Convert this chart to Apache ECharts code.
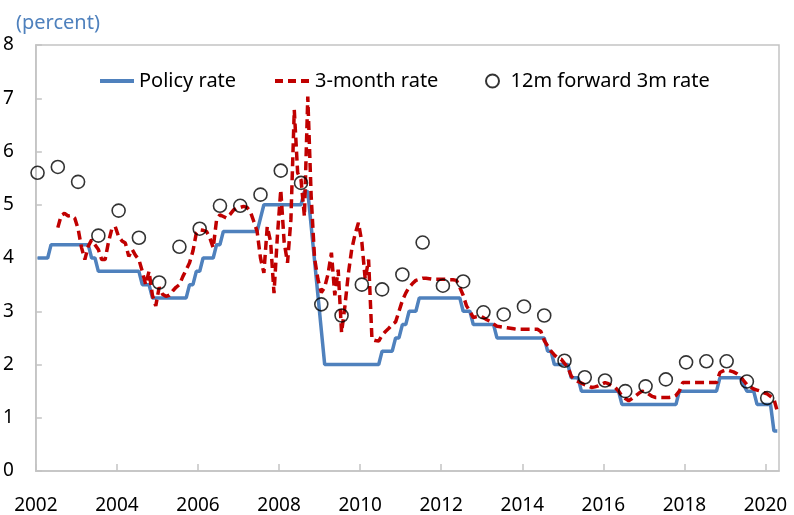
<!DOCTYPE html>
<html>
<head>
<meta charset="utf-8">
<script src="https://cdn.jsdelivr.net/npm/echarts@6/dist/echarts.min.js"></script>
<style>
  html, body { margin: 0; padding: 0; background: #fff; }
  #chart { width: 794px; height: 515px; }
</style>
</head>
<body>
<div id="chart"></div>
<script>
// monthly values, Jan 2002 .. Apr 2020 (one row per year)
const policyRate = [
  4, 4, 4, 4, 4.25, 4.25, 4.25, 4.25, 4.25, 4.25, 4.25, 4.25,
  4.25, 4.25, 4.25, 4.25, 4, 4, 3.75, 3.75, 3.75, 3.75, 3.75, 3.75,
  3.75, 3.75, 3.75, 3.75, 3.75, 3.75, 3.75, 3.5, 3.5, 3.5, 3.25, 3.25,
  3.25, 3.25, 3.25, 3.25, 3.25, 3.25, 3.25, 3.25, 3.25, 3.5, 3.5, 3.75,
  3.75, 4, 4, 4, 4, 4.25, 4.25, 4.5, 4.5, 4.5, 4.5, 4.5,
  4.5, 4.5, 4.5, 4.5, 4.5, 4.5, 4.75, 5, 5, 5, 5, 5,
  5, 5, 5, 5, 5, 5, 5, 5.25, 5.25, 4.6, 3.95, 3.3,
  2.65, 2, 2, 2, 2, 2, 2, 2, 2, 2, 2, 2,
  2, 2, 2, 2, 2, 2, 2.25, 2.25, 2.25, 2.25, 2.5, 2.5,
  2.75, 2.75, 3, 3, 3, 3.25, 3.25, 3.25, 3.25, 3.25, 3.25, 3.25,
  3.25, 3.25, 3.25, 3.25, 3.25, 3.25, 3, 3, 3, 2.75, 2.75, 2.75,
  2.75, 2.75, 2.75, 2.75, 2.5, 2.5, 2.5, 2.5, 2.5, 2.5, 2.5, 2.5,
  2.5, 2.5, 2.5, 2.5, 2.5, 2.5, 2.5, 2.25, 2.25, 2, 2, 2,
  2, 2, 1.75, 1.75, 1.75, 1.5, 1.5, 1.5, 1.5, 1.5, 1.5, 1.5,
  1.5, 1.5, 1.5, 1.5, 1.5, 1.25, 1.25, 1.25, 1.25, 1.25, 1.25, 1.25,
  1.25, 1.25, 1.25, 1.25, 1.25, 1.25, 1.25, 1.25, 1.25, 1.25, 1.5, 1.5,
  1.5, 1.5, 1.5, 1.5, 1.5, 1.5, 1.5, 1.5, 1.5, 1.5, 1.75, 1.75,
  1.75, 1.75, 1.75, 1.75, 1.75, 1.62, 1.5, 1.5, 1.5, 1.25, 1.25, 1.25,
  1.25, 1.25, 0.75, 0.75
];

const threeMonthRate = [
  null, null, null, null, null, null, 4.57, 4.8, 4.84, 4.79, 4.8, 4.75,
  4.55, 4.2, 3.97, 4.22, 4.34, 4.25, 4.16, 3.97, 3.97, 4.3, 4.55, 4.59,
  4.4, 4.32, 4.28, 4.03, 4.16, 4.05, 3.97, 3.75, 3.5, 3.75, 3.3, 3.1,
  3.45, 3.32, 3.28, 3.3, 3.38, 3.45, 3.5, 3.65, 3.78, 3.91, 4.13, 4.47,
  4.53, 4.52, 4.5, 4.38, 4.19, 4.72, 4.81, 4.78, 4.75, 4.82, 4.9, 4.94,
  4.95, 4.97, 4.95, 4.87, 4.69, 4.5, 4.0, 3.72, 4.59, 4.3, 3.34, 4.41,
  5.28, 4.3, 3.91, 4.72, 6.78, 5.6, 5.47, 4.78, 7.03, 5.16, 4.0, 3.6,
  3.35, 3.45, 3.7, 4.1, 3.3, 3.78, 2.6, 3.1, 3.7, 4.16, 4.45, 4.66,
  4.3, 3.6, 3.97, 2.47, 2.45, 2.44, 2.55, 2.62, 2.68, 2.75, 2.8, 3.0,
  3.2, 3.34, 3.45, 3.52, 3.58, 3.6, 3.62, 3.62, 3.61, 3.6, 3.6, 3.6,
  3.6, 3.6, 3.59, 3.59, 3.58, 3.45, 3.3, 3.1, 3.0, 2.88, 2.9, 2.91,
  2.88, 2.84, 2.81, 2.76, 2.72, 2.71, 2.7, 2.69, 2.68, 2.67, 2.66, 2.66,
  2.66, 2.66, 2.66, 2.66, 2.66, 2.62, 2.45, 2.35, 2.25, 2.18, 2.12, 2.1,
  2.02, 1.95, 1.78, 1.72, 1.68, 1.65, 1.62, 1.6, 1.57, 1.58, 1.6, 1.63,
  1.66, 1.64, 1.6, 1.57, 1.5, 1.41, 1.36, 1.32, 1.36, 1.41, 1.46, 1.5,
  1.48, 1.44, 1.4, 1.38, 1.38, 1.38, 1.38, 1.38, 1.39, 1.42, 1.5, 1.66,
  1.66, 1.66, 1.66, 1.66, 1.66, 1.66, 1.66, 1.66, 1.66, 1.66, 1.85, 1.88,
  1.9, 1.88, 1.86, 1.83, 1.78, 1.7, 1.62, 1.58, 1.54, 1.52, 1.5, 1.47,
  1.45, 1.4, 1.35, 1.12
];

// January and July readings, Jan 2002 .. Jan 2020
const forwardRate = [
  5.6, 5.71, 5.43, 4.42, 4.89, 4.38, 3.54, 4.21, 4.55, 4.98,
  4.98, 5.19, 5.64, 5.41, 3.13, 2.92, 3.5, 3.41, 3.69, 4.29,
  3.48, 3.56, 2.98, 2.94, 3.09, 2.92, 2.07, 1.76, 1.7, 1.5,
  1.59, 1.72, 2.04, 2.06, 2.06, 1.68, 1.37
];

const startYear = 2002;
const monthsShown = 220; // axis runs to start of May 2020
const font = 'Noto Sans';

// month index -> decimal year, points sit mid-month
function monthPos(i) {
  return startYear + (i + 0.5) / 12;
}

const chart = echarts.init(document.getElementById('chart'));

const legendText = { fontFamily: font, fontSize: 20, color: '#000' };

const option = {
  animation: false,
  backgroundColor: '#fff',
  title: {
    text: '(percent)',
    left: 11,
    top: 8,
    textStyle: { fontFamily: font, fontSize: 20, fontWeight: 'normal', color: '#4f81bd' }
  },
  legend: [
    {
      data: ['Policy rate'],
      left: 98, top: 71, padding: 0,
      itemWidth: 34, itemHeight: 14,
      itemStyle: { opacity: 0 },
      lineStyle: { width: 4 },
      textStyle: legendText
    },
    {
      data: ['3-month rate'],
      left: 273, top: 71, padding: 0,
      itemWidth: 35, itemHeight: 14,
      itemStyle: { opacity: 0 },
      lineStyle: { width: 4, type: [8, 5] },
      textStyle: legendText
    },
    {
      data: ['12m forward 3m rate'],
      left: 485, top: 71, padding: 0,
      itemWidth: 26, itemHeight: 13,
      textStyle: legendText
    }
  ],
  grid: {
    left: 34, right: 15, top: 45, bottom: 43,
    show: true,
    borderColor: '#c3c3c3',
    borderWidth: 1.5
  },
  xAxis: {
    type: 'value',
    min: startYear,
    max: startYear + monthsShown / 12,
    interval: 2,
    axisLine: { show: true, lineStyle: { color: '#c3c3c3', width: 1.5 } },
    axisTick: { show: true, inside: true, length: 7, lineStyle: { color: '#c3c3c3', width: 1.5 } },
    axisLabel: {
      margin: 25,
      showMaxLabel: false,
      fontFamily: font, fontSize: 19, color: '#000',
      formatter: v => (Number.isInteger(Math.round(v * 1000) / 1000) ? String(Math.round(v)) : '')
    },
    splitLine: { show: false }
  },
  yAxis: {
    type: 'value',
    min: 0, max: 8, interval: 1,
    axisLine: { show: true, lineStyle: { color: '#c3c3c3', width: 1.5 } },
    axisTick: { show: true, inside: true, length: 6, lineStyle: { color: '#c3c3c3', width: 1.5 } },
    axisLabel: { margin: 22, fontFamily: font, fontSize: 19, color: '#000' },
    splitLine: { show: false }
  },
  series: [
    {
      name: 'Policy rate',
      type: 'line',
      symbol: 'none',
      data: policyRate.map((v, i) => [monthPos(i), v]),
      lineStyle: { color: '#4f81bd', width: 3.5 },
      itemStyle: { color: '#4f81bd' },
      z: 2
    },
    {
      name: '3-month rate',
      type: 'line',
      symbol: 'none',
      data: threeMonthRate.map((v, i) => [monthPos(i), v]),
      lineStyle: { color: '#c00000', width: 3.5, type: [9, 5] },
      itemStyle: { color: '#c00000' },
      z: 3
    },
    {
      name: '12m forward 3m rate',
      type: 'scatter',
      symbol: 'circle',
      symbolSize: 13,
      data: forwardRate.map((v, k) => [monthPos(k * 6), v]),
      itemStyle: { color: 'rgba(0,0,0,0)', borderColor: '#000', borderWidth: 1.6 },
      z: 4
    }
  ]
};

chart.setOption(option);
</script>
</body>
</html>
